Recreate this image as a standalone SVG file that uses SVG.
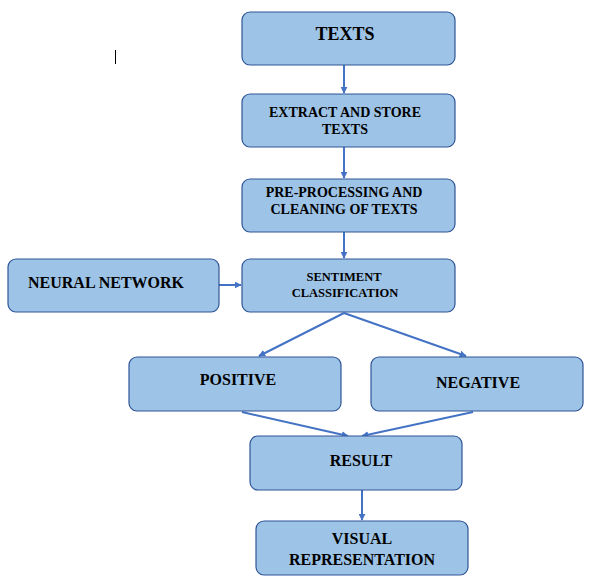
<svg xmlns="http://www.w3.org/2000/svg" width="595" height="583" viewBox="0 0 595 583">
<defs>
<style>
.box{fill:#9DC3E6;stroke:#2F5597;stroke-width:1.2}
.t{font-family:'Liberation Serif','Times New Roman',Tinos,'DejaVu Serif',serif;font-weight:bold;fill:#000;text-anchor:middle}
.c{stroke:#4472C4;stroke-width:2;fill:none;marker-end:url(#ah)}
</style>
<marker id="ah" viewBox="0 0 10 10" refX="9" refY="5" markerWidth="3.5" markerHeight="3.5" orient="auto" markerUnits="strokeWidth">
<path d="M0,0 L10,5 L0,10 z" fill="#4472C4"/>
</marker>
</defs>
<rect width="595" height="583" fill="#fff"/>
<line x1="115.5" y1="50" x2="115.5" y2="64" stroke="#000" stroke-width="1"/>
<g id="connectors">
<line class="c" x1="344" y1="65" x2="344" y2="93"/>
<line class="c" x1="344" y1="147" x2="344" y2="178"/>
<line class="c" x1="344" y1="232" x2="344" y2="258"/>
<line class="c" x1="219" y1="285" x2="241" y2="285"/>
<line class="c" x1="344" y1="313" x2="259" y2="356"/>
<line class="c" x1="344" y1="313" x2="466" y2="356"/>
<line class="c" x1="242" y1="412" x2="348" y2="436"/>
<line class="c" x1="473" y1="412" x2="362" y2="436"/>
<line class="c" x1="362" y1="490" x2="362" y2="520"/>
</g>
<g id="texts"><rect class="box" x="242" y="12" width="213" height="53" rx="8"/><text class="t" font-family="Liberation Serif, serif" x="345" y="40" font-size="18">TEXTS</text></g>
<g id="extract"><rect class="box" x="242" y="94" width="213" height="53" rx="8"/><text class="t" x="345" y="117" font-size="14">EXTRACT AND STORE</text><text class="t" x="345" y="134" font-size="14">TEXTS</text></g>
<g id="preprocess"><rect class="box" x="242" y="179" width="213" height="53" rx="8"/><text class="t" x="344" y="197" font-size="14">PRE-PROCESSING AND</text><text class="t" x="344" y="214" font-size="14">CLEANING OF TEXTS</text></g>
<g id="sentiment"><rect class="box" x="242" y="259" width="213" height="53" rx="8"/><text class="t" x="344" y="281" font-size="12.5">SENTIMENT</text><text class="t" x="345" y="297" font-size="12.5">CLASSIFICATION</text></g>
<g id="neural"><rect class="box" x="8" y="259" width="211" height="53" rx="8"/><text class="t" x="106" y="288" font-size="16">NEURAL NETWORK</text></g>
<g id="positive"><rect class="box" x="129" y="357" width="212" height="54" rx="8"/><text class="t" x="238" y="385" font-size="16">POSITIVE</text></g>
<g id="negative"><rect class="box" x="371" y="357" width="212" height="54" rx="8"/><text class="t" x="478" y="388" font-size="16">NEGATIVE</text></g>
<g id="result"><rect class="box" x="250" y="436" width="212" height="54" rx="8"/><text class="t" x="361" y="466" font-size="16">RESULT</text></g>
<g id="visual"><rect class="box" x="256" y="521" width="212" height="54" rx="8"/><text class="t" x="362" y="544" font-size="16">VISUAL</text><text class="t" x="362" y="565" font-size="16">REPRESENTATION</text></g>
</svg>
